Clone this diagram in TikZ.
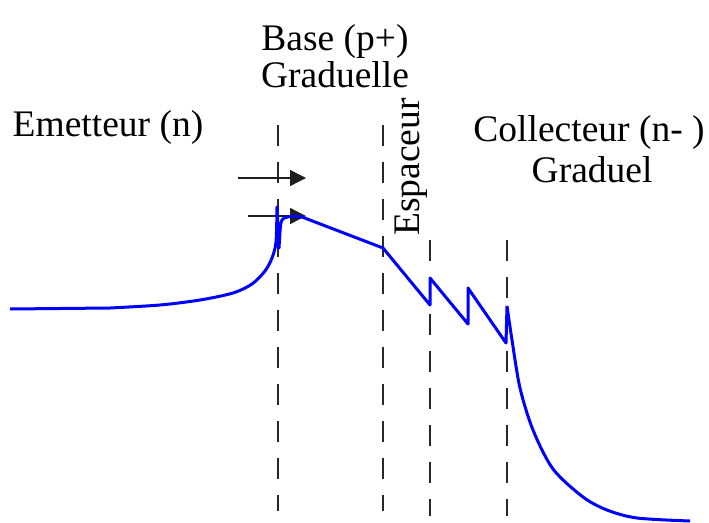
\documentclass[tikz,border=0pt]{standalone}
\usepackage{fontspec}
\setmainfont{Liberation Serif}
\usepackage{tikz}
\usetikzlibrary{arrows.meta, positioning}
\definecolor{bandclr}  {RGB}{0,   0, 255}
\definecolor{guideclr} {RGB}{40,  40,  40}
\definecolor{arrowclr} {RGB}{30,  30,  30}

\begin{document}
\begin{tikzpicture}[x=1pt, y=-1pt,
    lbl/.style={inner sep=0pt, font=\fontsize{37.5}{38}\selectfont, align=center},
    guide/.style={guideclr, line width=1.4pt, dash pattern=on 21pt off 16pt},
    drift/.style={arrowclr, line width=1.3pt, -{Triangle[length=16pt, width=16pt]}}]
  \useasboundingbox (0,0) rectangle (709,522);
  % region labels
  \node[lbl] (emet) at (108,127) {Emetteur (n)};
  \node[lbl] (base) at (335,56) {Base (p+)\\[-1pt]Graduelle};
  \node[lbl] (coll) at (589,149) {Collecteur (n- )\\[3pt]\,Graduel};
  \node[lbl, rotate=90] (esp) at (411,167) {Espaceur};
  % interfaces (dashed)
  \coordinate (eb-t) at (278,125);  \coordinate (eb-b) at (278,511);
  \coordinate (bs-t) at (383,125);  \coordinate (bs-b) at (383,511);
  \coordinate (s1-t) at (430,240);  \coordinate (s1-b) at (430,516);
  \coordinate (sc-t) at (507,240);  \coordinate (sc-b) at (507,516);
  \draw[guide] (eb-t) -- (eb-b);
  \draw[guide] (bs-t) -- (bs-b);
  \draw[guide] (s1-t) -- (s1-b);
  \draw[guide] (sc-t) -- (sc-b);
  % injection arrows
  \coordinate (in1) at (238,178);  \coordinate (out1) at (306,178);
  \coordinate (in2) at (248,216);  \coordinate (out2) at (306,216);
  \draw[drift] (in1) -- (out1);
  \draw[drift] (in2) -- (out2);
  % conduction band edge
  \draw[bandclr, line width=3pt, line join=round]
    (10,309) -- (110,308)
    plot[smooth] coordinates {(110,308) (160,305) (200,300) (233,293)
      (252,284) (265,271) (272,258) (276,242) (277,207)}
    -- (279,248) -- (280,232) .. controls (281,218) .. (293,216)
    -- (302,217) -- (383,248) -- (430,305) -- (430,278)
    -- (468,324) -- (468,288) -- (506,343) -- (507,306)
    plot[smooth] coordinates {(507,306) (512,340) (520,388) (533,430)
      (553,469) (583,497) (607,510) (637,518) (690,521)};
\end{tikzpicture}
\end{document}
